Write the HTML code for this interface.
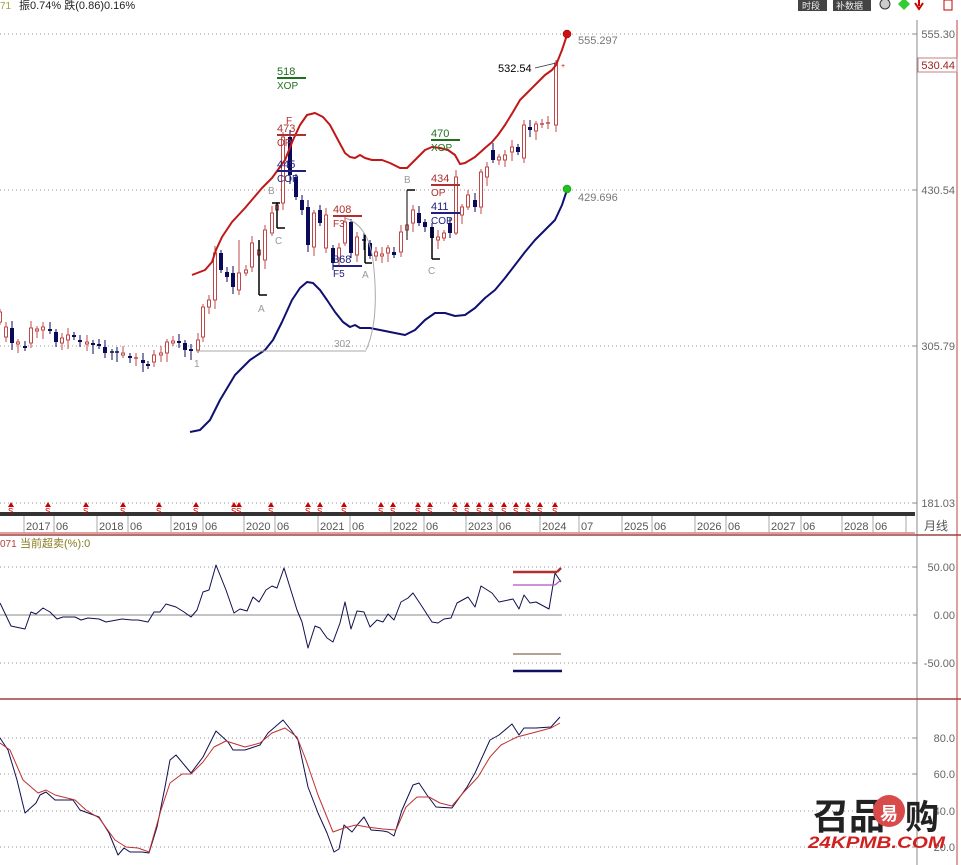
<!DOCTYPE html>
<html><head><meta charset="utf-8"><style>
html,body{margin:0;padding:0;background:#fff;}
svg{display:block;font-family:"Liberation Sans","Noto Sans CJK SC",sans-serif;}
</style></head><body>
<svg id="c" width="961" height="865" viewBox="0 0 961 865" xmlns="http://www.w3.org/2000/svg"></svg>
<script>
var s='';
function L(x1,y1,x2,y2,c,w,d){s+='<line x1="'+x1+'" y1="'+y1+'" x2="'+x2+'" y2="'+y2+'" stroke="'+c+'" stroke-width="'+(w||1)+'"'+(d?' stroke-dasharray="'+d+'"':'')+'/>';}
function T(x,y,t,c,sz,extra){s+='<text x="'+x+'" y="'+y+'" fill="'+c+'" font-size="'+(sz||11)+'" '+(extra||'')+'>'+t+'</text>';}
function P(pts,c,w){s+='<polyline fill="none" stroke="'+c+'" stroke-width="'+(w||1)+'" stroke-linejoin="round" points="'+pts.map(function(p){return p.join(',')}).join(' ')+'"/>';}
// grids
[34,190,346,503].forEach(function(y){L(0,y,915,y,'#999',1,'1 3');});
[567,663].forEach(function(y){L(0,y,915,y,'#999',1,'1 3');});
L(561,615,915,615,'#999',1,'1 3');L(0,615,561,615,'#888',1);
[738,774,811,847].forEach(function(y){L(0,y,915,y,'#999',1,'1 3');});
// right axis
L(917,20,917,865,'#888',1);
L(957,20,957,865,'#c04040',1);
[['555.30',38],['430.54',194],['305.79',350],['181.03',507],['50.00',571],['0.00',619],['-50.00',667],['80.0',742],['60.0',778],['40.0',815],['20.0',851]].forEach(function(a){T(955,a[1],a[0],'#666',11,'text-anchor="end"');L(913,a[1]-4,917,a[1]-4,'#888',1);});
s+='<rect x="918" y="58" width="39" height="14" fill="#fff" stroke="#c08080"/>';T(955,69,'530.44','#a02020',11,'text-anchor="end"');
// panel separators
L(0,535,961,535,'#a04040',1.5);L(0,699,961,699,'#a04040',1.5);
// date band
s+='<rect x="0" y="512" width="915" height="4" fill="#333"/>';
L(0,533,915,533,'#c04040',1);
var dl=[['2017',26],['06',56],['2018',99],['06',130],['2019',173],['06',205],['2020',246],['06',277],['2021',320],['06',352],['2022',393],['06',426],['2023',468],['06',499],['2024',542],['07',581],['2025',624],['06',654],['2026',697],['06',728],['2027',771],['06',803],['2028',844],['06',875]];
dl.forEach(function(a){L(a[1]-2,516,a[1]-2,533,'#aaa',1);T(a[1],530,a[0],'#555',11);});
L(906,516,906,533,'#aaa',1);T(924,530,'月线','#555',12);
// S marks
[11,48,86,123,159,196,234,239,271,308,320,344,381,393,418,430,455,467,479,491,504,516,528,540,555].forEach(function(x){s+='<polygon points="'+(x-3)+',507 '+x+',502 '+(x+3)+',507" fill="#c00"/>';T(x-3,514,'S','#c00',8);});
// candles
var cd=[[0,322,312],[6,337,327],[12,328,343],[18,344,342],[25,346,348],[31,343,328],[37,331,329],[43,330,327],[50,329,331],[56,332,342],[62,343,338],[68,340,335],[74,335,337],[80,340,342],[87,344,342],[93,343,345],[99,344,346],[105,347,353],[112,352,353],[117,352,353],[123,355,353],[130,356,358],[136,359,358],[143,360,363],[148,364,366],[154,362,355],[161,355,353],[167,353,342],[173,343,341],[179,341,343],[185,343,350],[191,349,351],[198,350,340],[203,337,307],[209,307,300],[215,300,253],[221,253,270],[227,272,277],[233,273,287],[239,290,273],[246,273,270],[252,267,243],[259,255,250],[265,260,230],[272,233,213],[277,210,205],[283,203,137],[290,137,175],[296,177,197],[302,200,210],[308,207,245],[314,247,213],[320,210,223],[326,248,215],[333,248,263],[339,258,248],[345,243,222],[351,222,253],[357,255,237],[364,240,241],[370,243,256],[376,256,252],[382,256,254],[388,253,248],[394,252,255],[401,252,232],[407,230,225],[413,223,210],[419,213,223],[425,222,227],[432,227,238],[438,240,237],[444,238,233],[450,223,233],[456,233,177],[462,215,207],[468,207,195],[475,200,207],[481,207,172],[487,177,167],[493,150,160],[499,160,157],[505,160,155],[512,152,147],[518,147,152],[524,158,125],[530,127,130],[536,131,124],[542,125,124],[548,124,123],[556,125,63]];
cd.forEach(function(k,i){var x=k[0],o=k[1],c=k[2];var up=c<o;var t=Math.min(o,c),b=Math.max(o,c);var h=t-3-(i%3)*2,l=b+3+(i%4)*2;
if(x==239){l=295;h=240}if(x==290){h=130}if(x==456){h=170;l=235}if(x==432){h=223}
var col=up?'#c04848':'#0a0a5a';L(x,h,x,l,col,1);
if(b-t<1.5){L(x-2,t,x+2,t,col,1.5);}else if(up){s+='<rect x="'+(x-1.5)+'" y="'+t+'" width="3" height="'+(b-t)+'" fill="#fff" stroke="'+col+'" stroke-width="1"/>';}else{s+='<rect x="'+(x-2)+'" y="'+t+'" width="4" height="'+(b-t)+'" fill="'+col+'"/>';}});
// bands
P([[192,275],[205,270],[212,262],[216,250],[222,237],[232,222],[245,208],[262,188],[272,178],[285,160],[293,140],[300,125],[307,115],[315,113],[323,117],[330,125],[338,140],[345,153],[350,157],[355,158],[360,155],[365,158],[372,160],[382,160],[390,163],[400,168],[407,168],[415,160],[425,150],[432,147],[440,148],[448,150],[455,155],[460,164],[465,163],[475,157],[485,148],[492,142],[498,135],[505,125],[513,112],[520,100],[528,92],[535,85],[545,75],[552,70],[556,65],[562,50],[567,35]],'#c01818',2);
P([[190,432],[200,430],[210,420],[220,400],[235,375],[250,360],[265,350],[273,340],[282,322],[292,300],[300,288],[307,282],[313,283],[320,290],[327,300],[335,312],[343,322],[350,327],[355,325],[360,328],[370,328],[380,330],[395,333],[405,335],[415,330],[425,320],[435,313],[445,313],[455,316],[465,315],[475,308],[485,298],[495,290],[505,278],[515,265],[525,252],[535,240],[545,230],[555,220],[562,205],[567,190]],'#101070',2);
s+='<circle cx="567" cy="34" r="4" fill="#d01010" stroke="#800" stroke-width="0.5"/><circle cx="567" cy="189" r="4" fill="#20c020" stroke="#080" stroke-width="0.5"/>';
T(578,44,'555.297','#777',11);T(578,201,'429.696','#777',11);T(498,72,'532.54','#000',11);L(535,68,556,63,'#333',0.8);T(561,68,'+','#c00',7);
// annotations
function ann(x,y,num,lab,col){T(x,y,num,col,11);L(x,y+3,x+29,y+3,col,2);T(x,y+14,lab,col,10);}
ann(277,75,'518','XOP','#207020');ann(277,132,'473','OP','#b03030');ann(277,168,'445','COP','#202080');
ann(333,213,'408','F3','#b03030');ann(333,263,'368','F5','#202080');
ann(431,137,'470','XOP','#207020');ann(431,182,'434','OP','#b03030');ann(431,210,'411','COP','#202080');
T(286,124,'F','#b03030',10);
[[268,194,'B'],[275,244,'C'],[258,312,'A'],[362,278,'A'],[404,183,'B'],[428,274,'C'],[334,347,'302'],[194,367,'1']].forEach(function(a){T(a[0],a[1],a[2],'#999',10);});
L(196,351,366,351,'#aaa',1);
s+='<path d="M345,218 Q368,225 373,260 Q380,320 366,350" fill="none" stroke="#aaa" stroke-width="1"/>';
function br(x,y1,y2,x2){L(x,y1,x,y2,'#000',1.5);L(x,y2,x2,y2,'#000',1.5);}
L(272,203,280,203,'#000',1.5);br(277,203,228,285);br(259,240,295,267);br(365,235,263,372);L(407,190,415,190,'#000',1.5);L(407,190,407,240,'#000',1);br(432,227,259,440);
// header
T(0,9,'71','#a0a040',10);T(19,9,'振0.74% 跌(0.86)0.16%','#222',11);
s+='<rect x="798" y="0" width="29" height="11" fill="#444"/><rect x="833" y="0" width="38" height="11" fill="#444"/>';
T(802,9,'时段','#eee',9);T(836,9,'补数据','#eee',9);
s+='<circle cx="885" cy="4" r="5" fill="#ccc" stroke="#333"/><polygon points="904,-2 910,4 904,10 898,4" fill="#3c3"/><path d="M919,0 L919,6 M915,3 L919,9 L923,3" stroke="#c00" stroke-width="2" fill="none"/><rect x="944" y="0" width="8" height="10" fill="none" stroke="#c00"/>';
// panel 2
T(0,547,'071','#b04040',10);T(20,547,'当前超卖(%):0','#8a7a20',11);
P([[0,603],[11,626],[25,629],[31,612],[36,614],[43,608],[50,612],[57,619],[63,617],[75,617],[81,620],[88,618],[99,619],[106,622],[122,619],[132,620],[138,620],[148,622],[154,612],[160,612],[166,604],[176,607],[184,612],[191,617],[197,610],[203,592],[209,590],[216,565],[226,590],[234,613],[240,609],[247,611],[253,597],[259,602],[266,590],[272,586],[277,588],[284,568],[297,610],[302,622],[308,648],[315,626],[320,628],[327,638],[333,642],[340,623],[345,602],[351,629],[357,611],[364,612],[370,627],[377,620],[383,622],[388,614],[394,620],[401,602],[408,598],[413,593],[421,605],[432,622],[438,623],[444,619],[451,618],[457,603],[468,597],[475,607],[481,586],[492,593],[499,602],[513,599],[519,609],[524,595],[530,603],[536,602],[549,609],[555,573],[561,582]],'#101050',1);
L(513,572,557,572,'#b03030',2.5);L(557,572,561,568,'#b03030',2.5);L(513,585,555,585,'#b050c0',1.2);L(555,585,561,580,'#b050c0',1.2);
L(513,654,561,654,'#704020',1);L(513,671,562,671,'#101060',2.5);
// panel 3
P([[0,738],[8,750],[17,780],[25,813],[36,803],[40,795],[46,792],[55,800],[73,800],[80,810],[99,817],[109,833],[118,855],[124,848],[130,852],[142,852],[149,853],[157,827],[165,787],[170,760],[176,755],[191,773],[203,757],[216,731],[228,742],[233,750],[245,750],[260,745],[268,733],[283,720],[291,730],[298,740],[308,787],[318,813],[327,833],[334,852],[339,849],[344,825],[352,832],[358,824],[364,817],[371,830],[383,831],[388,832],[394,836],[402,810],[413,785],[419,783],[427,795],[436,807],[452,808],[467,787],[475,773],[490,740],[499,735],[512,724],[519,735],[524,728],[536,728],[551,727],[560,717]],'#101050',1);
P([[0,743],[10,750],[23,780],[38,793],[46,790],[55,795],[75,800],[86,810],[99,818],[115,840],[126,847],[138,848],[149,852],[161,810],[170,783],[182,774],[191,774],[203,762],[214,747],[226,741],[245,747],[260,743],[272,733],[285,728],[297,737],[306,760],[318,795],[333,832],[344,828],[356,825],[367,827],[383,829],[396,830],[406,807],[417,797],[429,797],[440,803],[452,806],[463,793],[478,777],[490,757],[501,745],[517,737],[536,732],[551,728],[560,723]],'#c03030',1);
// watermark
T(813,829,'召品','#222',36,'font-weight="bold"');s+='<circle cx="889" cy="811" r="16" fill="#d94a4a"/>';T(880,820,'易','#fff',18,'font-weight="bold"');T(905,829,'购','#222',34,'font-weight="bold"');
T(808,848,'24KPMB.COM','#d02020',17,'font-weight="bold" font-style="italic" textLength="137" lengthAdjust="spacingAndGlyphs"');
document.getElementById('c').innerHTML=s;
</script>
</body></html>
